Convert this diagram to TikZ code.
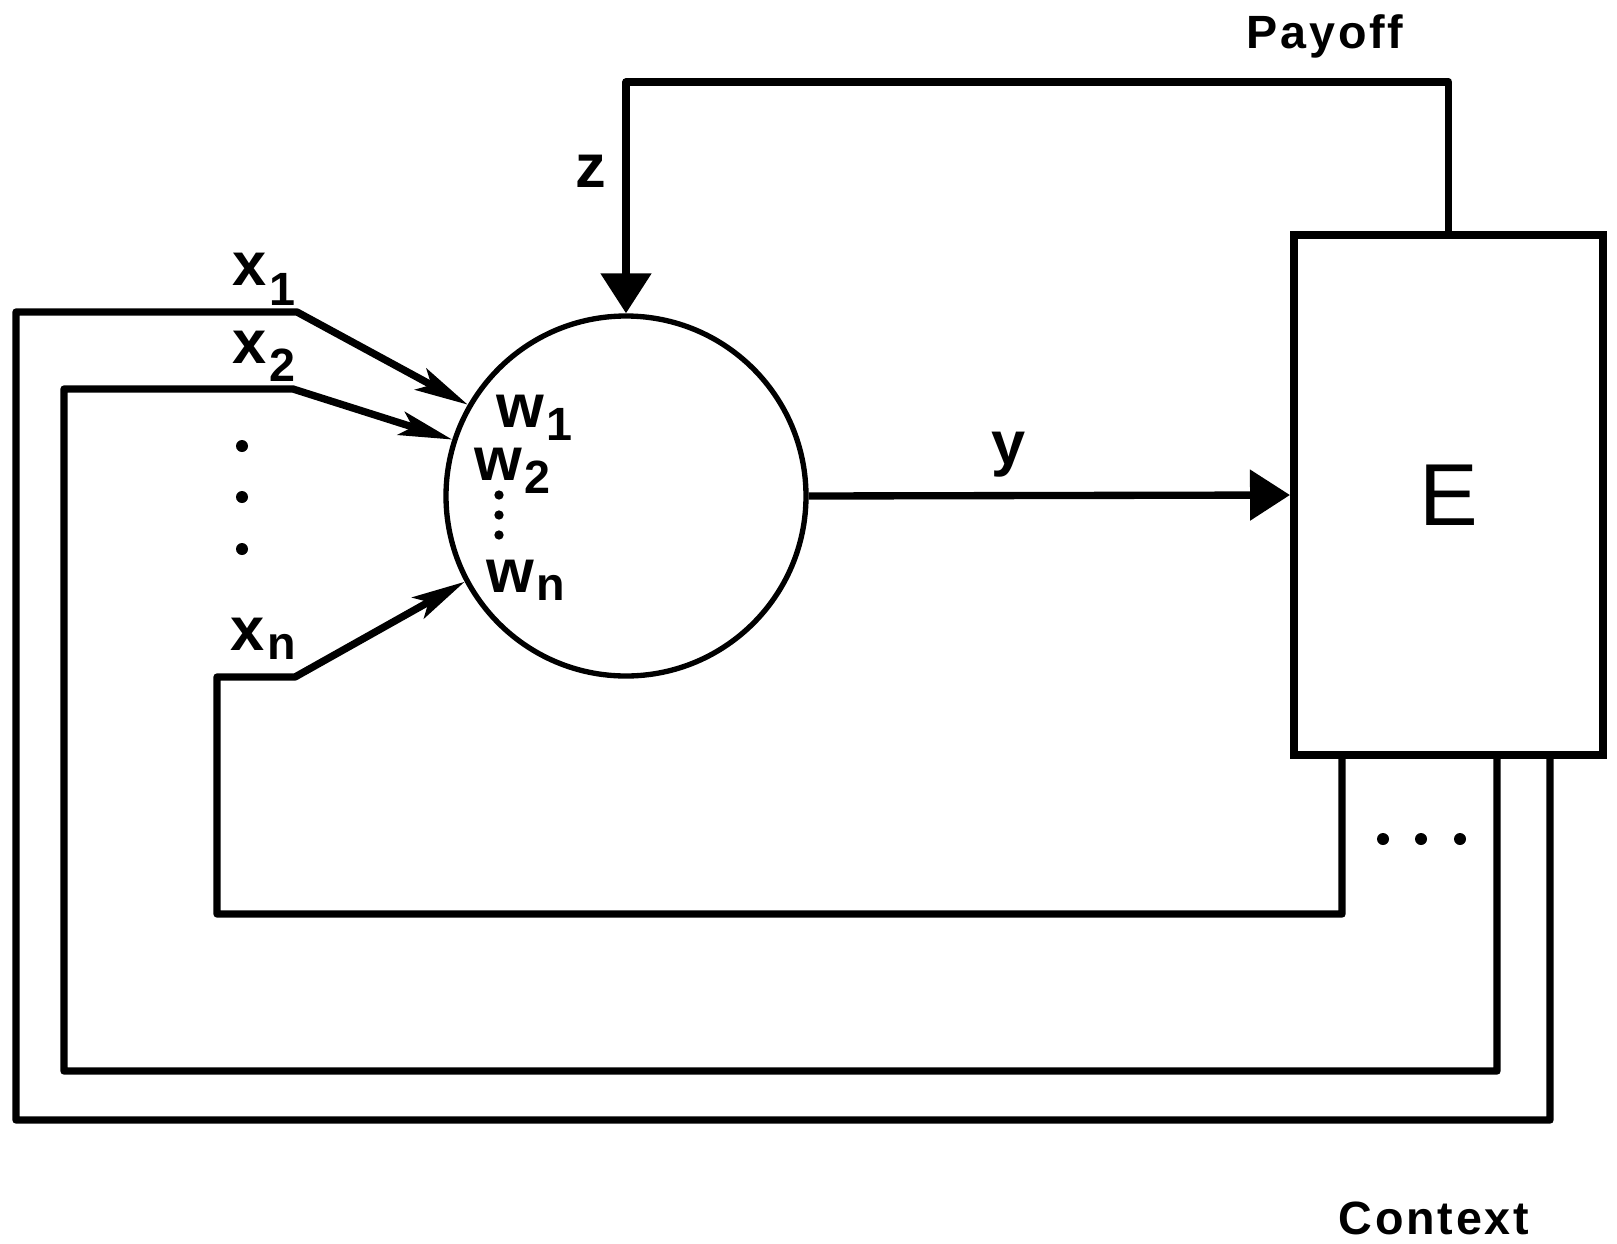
\documentclass[tikz,border=0pt]{standalone}
\usepackage{fontspec}
\setmainfont{Liberation Sans}
\newfontfamily\spacedfont[LetterSpace=6]{Liberation Sans}
\usetikzlibrary{arrows.meta,calc}
\newcommand\lowsub[2]{\kern2pt\raisebox{-#1}{\fontsize{35}{35}\selectfont #2}}
\begin{document}
\begin{tikzpicture}[x=0.75pt,y=-0.75pt,
  conn/.style={line width=5.5pt,line join=round},
  inarrow/.style={conn,-{Stealth[length=40pt,width=18pt,inset=9pt]}},
  bigarrow/.style={conn,-{Triangle[length=30pt,width=37pt]}},
  lab/.style={font=\fontsize{46}{46}\selectfont\bfseries,inner sep=0pt,anchor=base west},
  title/.style={font=\fontsize{35}{35}\selectfont\bfseries\spacedfont,inner sep=0pt,anchor=base},
  unit/.style={circle,draw,line width=4pt,minimum size=270pt,inner sep=0pt},
  envbox/.style={rectangle,draw,line width=6pt,minimum width=231.75pt,minimum height=390pt,inner sep=0pt,font=\fontsize{66}{66}\selectfont},
  dot/.style={fill=black}
]
\useasboundingbox (0,0) rectangle (1617,1243);

\node[unit] (cir) at (626,496) {};
\node[envbox] (E) at (1448.5,495) {E};

% labels
\node[lab] (lx1) at (232,285) {x\lowsub{15pt}{1}};
\node[lab] (lx2) at (232,363) {x\lowsub{14pt}{2}};
\node[lab] (lxn) at (230,650) {x\lowsub{7pt}{n}};
\node[lab] (lw1) at (496,427) {w\lowsub{10pt}{1}};
\node[lab] (lw2) at (474,480) {w\lowsub{10pt}{2}};
\node[lab] (lwn) at (486,592) {w\lowsub{6pt}{n}};
\node[lab] (lz) at (575,187) {z};
\node[lab,anchor=center] (ly) at (1009,455) {y};
\node[title] (payoff) at (1325,48) {Payoff};
\node[title] (context) at (1434,1234) {Context};

% output
\draw[bigarrow] (cir.east) -- (E.west);

% payoff feedback
\coordinate (ptop) at (626,82);
\draw[bigarrow] (E.north) |- (ptop) -- (cir.north);

% context lines
\path (E.south) ++(101.5,0) coordinate (o1);
\path (E.south) ++(48.5,0) coordinate (o2);
\path (E.south) ++(-106.5,0) coordinate (on);
\coordinate (c1a) at (16,1120);
\coordinate (c1b) at (297,312);
\coordinate (c2a) at (64,1071);
\coordinate (c2b) at (293,389);
\coordinate (cna) at (217,914);
\coordinate (cnb) at (295,677);
\draw[inarrow] (o1) |- (c1a) |- (c1b) -- (cir.150);
\draw[inarrow] (o2) |- (c2a) |- (c2b) -- (cir.162);
\draw[inarrow] (on) |- (cna) |- (cnb) -- (cir.208);

% dots
\foreach \yy in {446,497,549} \fill[dot] (242,\yy) circle (4.5pt);
\foreach \yy in {495,515,535} \fill[dot] (499,\yy) circle (3.5pt);
\foreach \xx in {1383,1421,1460} \fill[dot] (\xx,839) circle (4.5pt);
\end{tikzpicture}
\end{document}
